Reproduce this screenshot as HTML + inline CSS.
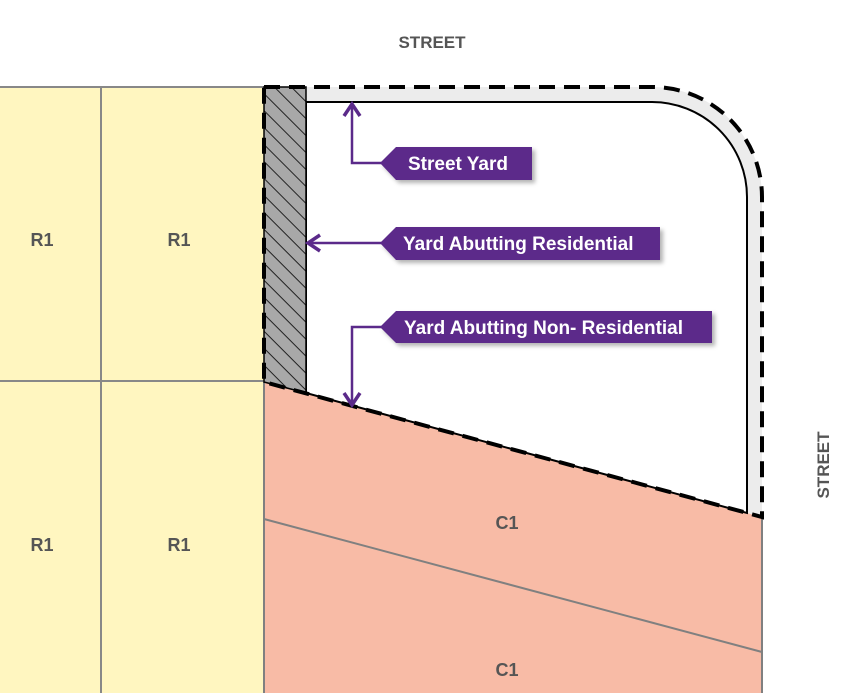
<!DOCTYPE html>
<html><head><style>body{margin:0;background:#fff}svg{display:block}text{font-family:"Liberation Sans",sans-serif;font-weight:bold}</style></head><body>
<svg width="862" height="693" viewBox="0 0 862 693" xmlns="http://www.w3.org/2000/svg">
<defs>
<pattern id="h" patternUnits="userSpaceOnUse" width="12" height="12" patternTransform="rotate(-45)">
<rect width="12" height="12" fill="#a8a8a8"/><line x1="0" y1="0" x2="0" y2="12" stroke="#222" stroke-width="2"/>
</pattern>
<filter id="sh" x="-10%" y="-20%" width="130%" height="160%"><feDropShadow dx="3" dy="3" stdDeviation="2" flood-color="#000" flood-opacity="0.3"/></filter>
</defs>
<rect x="0" y="87" width="264" height="606" fill="#fff6c0"/>
<line x1="101" y1="87" x2="101" y2="693" stroke="#888" stroke-width="2"/>
<line x1="0" y1="381" x2="264" y2="381" stroke="#888" stroke-width="2"/>
<line x1="0" y1="87" x2="264" y2="87" stroke="#888" stroke-width="2"/>
<polygon points="264,382 762,517 762,693 264,693" fill="#f8bba6"/>
<line x1="264" y1="519" x2="762" y2="652" stroke="#808080" stroke-width="2"/>
<line x1="264" y1="382" x2="264" y2="693" stroke="#808080" stroke-width="2"/>
<line x1="762" y1="517" x2="762" y2="693" stroke="#808080" stroke-width="2"/>
<path d="M264,87 H652 A110,110 0 0 1 762,197 V517 L264,382 Z" fill="#ececec"/>
<path d="M306,102 H652 A95,95 0 0 1 747,197 V513 L306,393 Z" fill="#fff" stroke="#000" stroke-width="2"/>
<polygon points="264,87 306,87 306,393 264,382" fill="url(#h)" stroke="#000" stroke-width="1.5"/>
<path d="M264,87 H652 A110,110 0 0 1 762,197 V517 L264,382 Z" fill="none" stroke="#000" stroke-width="4" stroke-dasharray="16,9"/>
<g stroke="#5b2a8a" stroke-width="2.5" fill="none">
<polyline points="352,104 352,163 392,163"/>
<polyline points="344,116 352,104 360,116" stroke-width="3.5"/>
<line x1="308" y1="243" x2="392" y2="243"/>
<polyline points="320,235 308,243 320,251" stroke-width="3.5"/>
<polyline points="352,405 352,327 392,327"/>
<polyline points="344,393 352,405 360,393" stroke-width="3.5"/>
</g>
<g fill="#5b2a8a" filter="url(#sh)">
<polygon points="380,163 396,147 532,147 532,180 396,180"/>
<polygon points="380,243 396,227 660,227 660,260 396,260"/>
<polygon points="380,327 396,311 712,311 712,343 396,343"/>
</g>
<g fill="#fff" font-size="19">
<text x="408" y="170">Street Yard</text>
<text x="403" y="250">Yard Abutting Residential</text>
<text x="404" y="334">Yard Abutting Non- Residential</text>
</g>
<g fill="#555" font-size="17" text-anchor="middle">
<text x="432" y="48">STREET</text>
<text x="823" y="465" transform="rotate(-90 823 465)" dy="6">STREET</text>
<text x="42" y="246" font-size="18">R1</text><text x="179" y="246" font-size="18">R1</text>
<text x="42" y="551" font-size="18">R1</text><text x="179" y="551" font-size="18">R1</text>
<text x="507" y="529" font-size="18">C1</text><text x="507" y="676" font-size="18">C1</text>
</g>
</svg>
</body></html>
